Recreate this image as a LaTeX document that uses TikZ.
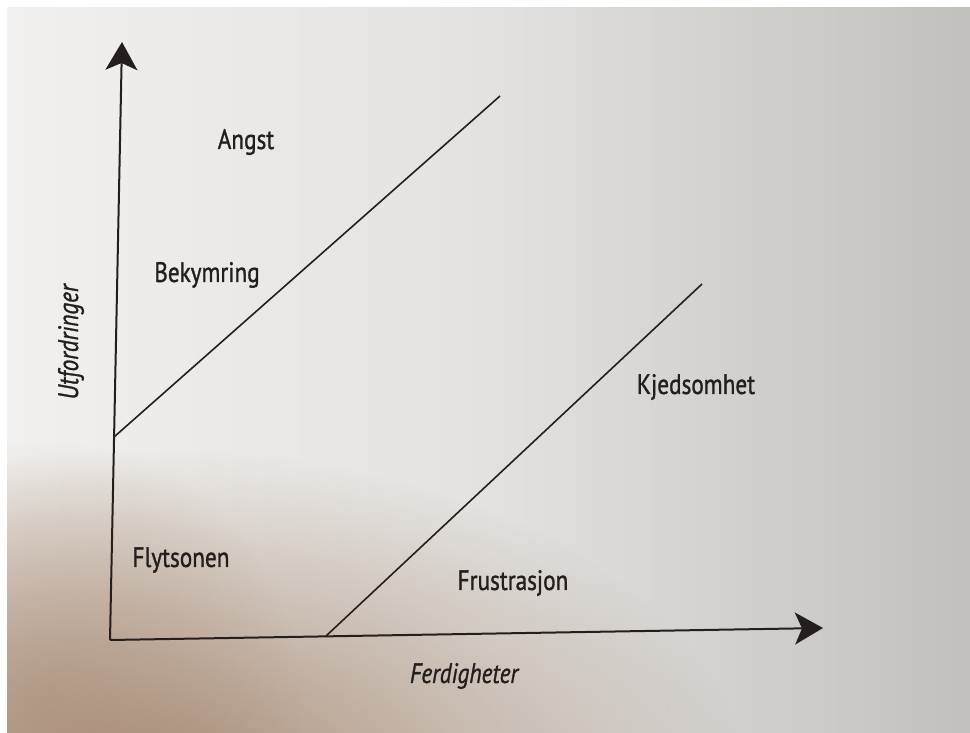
\documentclass[tikz,border=0pt]{standalone}
\usepackage{fontspec}
\setmainfont{PT Sans}
\newfontfamily\zonefont{PT Sans}[FakeBold=1.3]
\usetikzlibrary{arrows.meta,fadings}
\definecolor{ink}{HTML}{241F1D}
\definecolor{pageL}{HTML}{F1F0EE}
\definecolor{pageM}{HTML}{E3E2E0}
\definecolor{pageR}{HTML}{C2C0BD}
\definecolor{tan}{HTML}{A4866F}
\tikzfading[name=fuzzyround, inner color=transparent!0, outer color=transparent!100]
\newcommand{\narrow}[1]{\scalebox{0.83}[1]{#1}}
\tikzset{
  axisline/.style={draw=ink, line width=2pt, -{Stealth[length=28pt,width=32pt,inset=7pt]}},
  zoneline/.style={draw=ink, line width=1.6pt},
  zone/.style={text=ink, font=\zonefont\fontsize{28}{30}\selectfont, inner sep=0pt},
  axislabel/.style={text=ink, font=\zonefont\fontsize{28}{30}\selectfont\itshape, inner sep=0pt}
}
\begin{document}
\begin{tikzpicture}[x=1pt,y=-1pt]
\useasboundingbox (0,0) rectangle (970,733);
% photo background
\fill[white] (0,0) rectangle (970,733);
\shade[left color=pageL, right color=pageR, middle color=pageM] (7,7) rectangle (970,733);
\fill[tan, path fading=fuzzyround, opacity=0.95] (150,790) ellipse [x radius=600, y radius=340];
\fill[tan, path fading=fuzzyround, opacity=0.5] (40,700) ellipse [x radius=260, y radius=260];
\fill[white] (0,0) rectangle (7,733);
\fill[white] (0,0) rectangle (970,7);
% geometry
\coordinate (O) at (110,640);
\coordinate (Ytip) at (122,42);
\coordinate (Xtip) at (823,628);
\coordinate (A1) at (114,437);
\coordinate (A2) at (500,96);
\coordinate (B1) at (326,636);
\coordinate (B2) at (702,284);
\draw[axisline] (O) -- (Ytip);
\draw[axisline] (O) -- (Xtip);
\draw[zoneline] (A1) -- (A2);
\draw[zoneline] (B1) -- (B2);
% labels
\node[zone] (angst) at (246,142) {\narrow{Angst}};
\node[zone] (bek) at (207,275) {\narrow{Bekymring}};
\node[zone] (kjed) at (696,387) {\narrow{Kjedsomhet}};
\node[zone] (flyt) at (181,560) {\narrow{Flytsonen}};
\node[zone] (frus) at (513,583) {\narrow{Frustrasjon}};
\node[axislabel, rotate=90] (utf) at (71,342) {\narrow{Utfordringer}};
\node[axislabel] (ferd) at (464,676) {\narrow{Ferdigheter}};
\end{tikzpicture}
\end{document}
